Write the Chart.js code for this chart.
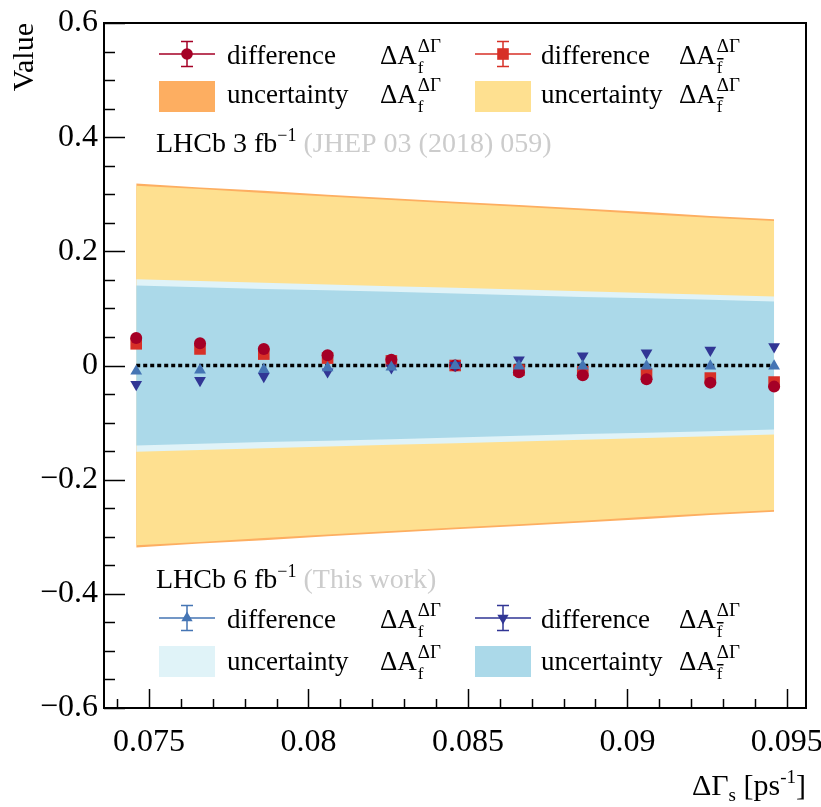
<!DOCTYPE html>
<html>
<head>
<meta charset="utf-8">
<script src="https://cdn.jsdelivr.net/npm/chart.js@4.4.0/dist/chart.umd.min.js"></script>
<style>
  html, body { margin: 0; padding: 0; background: #fff; }
</style>
</head>
<body>
<canvas id="chart" width="821" height="807"></canvas>
<script>
// x positions (Delta Gamma_s, ps^-1)
const deltaGamma = [0.0746, 0.0766, 0.0786, 0.0806, 0.0826, 0.0846, 0.0866, 0.0886, 0.0906, 0.0926, 0.0946];

// differences
const diffAf3fb    = [0.048, 0.039, 0.029, 0.018, 0.010, 0.000, -0.012, -0.017, -0.024, -0.030, -0.037];
const diffAfbar3fb = [0.038, 0.029, 0.020, 0.013, 0.008, 0.000, -0.008, -0.011, -0.015, -0.022, -0.029];
const diffAf6fb    = [-0.010, -0.008, -0.007, -0.004, -0.003, 0.000, -0.001, -0.001, -0.001, -0.001, -0.001];
const diffAfbar6fb = [-0.033, -0.026, -0.019, -0.011, -0.004, 0.000, 0.010, 0.017, 0.022, 0.027, 0.033];

// uncertainty half widths (bands are +/-)
const uncAf3fb    = [0.319, 0.312, 0.306, 0.299, 0.293, 0.287, 0.281, 0.275, 0.269, 0.262, 0.256];
const uncAfbar3fb = [0.315, 0.309, 0.302, 0.296, 0.290, 0.284, 0.278, 0.272, 0.265, 0.259, 0.253];
const uncAf6fb    = [0.151, 0.148, 0.145, 0.142, 0.139, 0.136, 0.133, 0.130, 0.127, 0.124, 0.121];
const uncAfbar6fb = [0.140, 0.137, 0.134, 0.132, 0.129, 0.126, 0.123, 0.120, 0.118, 0.115, 0.112];

const xTickValues = [0.075, 0.08, 0.085, 0.09, 0.095];
const yTickValues = [-0.6, -0.4, -0.2, 0, 0.2, 0.4, 0.6];

const FONT = '"Liberation Serif", "Times New Roman", serif';

function pts(arr, sign) {
  return deltaGamma.map((x, i) => ({ x: x, y: (sign || 1) * arr[i] }));
}

function band(arr, color, order) {
  return [
    { data: pts(arr, 1), fill: '+1', backgroundColor: color, borderWidth: 0, pointRadius: 0, order: order },
    { data: pts(arr, -1), fill: false, borderWidth: 0, pointRadius: 0, order: order }
  ];
}

function markers(arr, style, color, radius, rotation, order) {
  return {
    data: pts(arr), showLine: false, pointStyle: style, pointRadius: radius, pointRotation: rotation || 0,
    pointBackgroundColor: color, pointBorderColor: color, pointBorderWidth: 0, order: order
  };
}

// ROOT-like frame, inner ticks, legends and x title
const decorations = {
  id: 'decorations',
  afterDraw(chart) {
    const ctx = chart.ctx;
    const a = chart.chartArea;
    const xs = chart.scales.x, ys = chart.scales.y;
    ctx.save();
    ctx.strokeStyle = '#000';
    ctx.lineWidth = 1.5;
    // y ticks every 0.05, major every 0.2
    for (let k = -12; k <= 12; k++) {
      const v = k * 0.05;
      const py = Math.round(ys.getPixelForValue(v)) + 0.5;
      const len = (k % 4 === 0) ? 21 : 11;
      ctx.beginPath(); ctx.moveTo(a.left, py); ctx.lineTo(a.left + len, py); ctx.stroke();
    }
    // x ticks every 0.001, major every 0.005
    for (let k = 74; k <= 95; k++) {
      const v = k / 1000;
      const px = Math.round(xs.getPixelForValue(v)) + 0.5;
      const len = (k % 5 === 0) ? 19 : 9;
      ctx.beginPath(); ctx.moveTo(px, a.bottom); ctx.lineTo(px, a.bottom - len); ctx.stroke();
    }
    ctx.lineWidth = 2;
    ctx.strokeRect(a.left, a.top, a.right - a.left, a.bottom - a.top);

    ctx.textAlign = 'left';
    ctx.textBaseline = 'alphabetic';

    // x title: ΔΓs [ps-1], right aligned to frame
    const parts = [
      { t: 'ΔΓ', s: 30, dy: 0 }, { t: 's', s: 19, dy: 6 }, { t: ' [ps', s: 30, dy: 0 },
      { t: '-1', s: 19, dy: -12 }, { t: ']', s: 30, dy: 0 }
    ];
    let w = 0;
    parts.forEach(p => { ctx.font = p.s + 'px ' + FONT; w += ctx.measureText(p.t).width; });
    let x = a.right - w;
    parts.forEach(p => {
      ctx.font = p.s + 'px ' + FONT; ctx.fillStyle = '#000';
      ctx.fillText(p.t, x, 795 + p.dy); x += ctx.measureText(p.t).width;
    });

    // legends
    const colL = 187, colR = 503, txtL = 227, txtR = 541, daL = 380, daR = 679;
    legendMarker(ctx, 'circle', colL, 54, '#A50026');
    legendMarker(ctx, 'rect', colR, 54, '#D73027');
    legendText(ctx, 'difference', txtL, daL, 64, false);
    legendText(ctx, 'difference', txtR, daR, 64, true);
    ctx.fillStyle = '#FDAE61'; ctx.fillRect(159, 81, 56, 31);
    ctx.fillStyle = '#FEE090'; ctx.fillRect(475, 81, 56, 31);
    legendText(ctx, 'uncertainty', txtL, daL, 103, false);
    legendText(ctx, 'uncertainty', txtR, daR, 103, true);
    lhcbLabel(ctx, '3', '(JHEP 03 (2018) 059)', 156, 152);

    lhcbLabel(ctx, '6', '(This work)', 156, 588);
    legendMarker(ctx, 'triUp', colL, 618, '#4575B4');
    legendMarker(ctx, 'triDown', colR, 618, '#313695');
    legendText(ctx, 'difference', txtL, daL, 628, false);
    legendText(ctx, 'difference', txtR, daR, 628, true);
    ctx.fillStyle = '#E0F3F8'; ctx.fillRect(159, 646, 56, 31);
    ctx.fillStyle = '#ABD9E9'; ctx.fillRect(475, 646, 56, 31);
    legendText(ctx, 'uncertainty', txtL, daL, 670, false);
    legendText(ctx, 'uncertainty', txtR, daR, 670, true);
    ctx.restore();
  }
};

function legendMarker(ctx, style, x, y, color) {
  ctx.strokeStyle = color; ctx.fillStyle = color; ctx.lineWidth = 1.5;
  ctx.beginPath();
  ctx.moveTo(x - 28, y); ctx.lineTo(x + 28, y);
  ctx.moveTo(x, y - 12.5); ctx.lineTo(x, y + 12.5);
  ctx.moveTo(x - 6, y - 12.5); ctx.lineTo(x + 6, y - 12.5);
  ctx.moveTo(x - 6, y + 12.5); ctx.lineTo(x + 6, y + 12.5);
  ctx.stroke();
  ctx.beginPath();
  const r = 6.5;
  if (style === 'circle') ctx.arc(x, y, 5.8, 0, Math.PI * 2);
  else if (style === 'rect') ctx.rect(x - 5.8, y - 5.8, 11.6, 11.6);
  else if (style === 'triUp') { ctx.moveTo(x, y - r); ctx.lineTo(x + r * 0.866, y + r / 2); ctx.lineTo(x - r * 0.866, y + r / 2); }
  else { ctx.moveTo(x, y + r); ctx.lineTo(x + r * 0.866, y - r / 2); ctx.lineTo(x - r * 0.866, y - r / 2); }
  ctx.closePath();
  ctx.fill();
}

function legendText(ctx, word, x, xda, y, bar) {
  ctx.fillStyle = '#000';
  ctx.font = '27px ' + FONT;
  ctx.fillText(word, x, y);
  ctx.fillText('ΔA', xda, y);
  const x2 = xda + ctx.measureText('ΔA').width + 1;
  ctx.font = '17px ' + FONT;
  ctx.fillText('f', x2, y + 9);
  if (bar) ctx.fillRect(x2, y - 6, ctx.measureText('f').width + 1, 1.5);
  ctx.font = '19px ' + FONT;
  ctx.fillText('ΔΓ', x2, y - 12);
}

function lhcbLabel(ctx, lumi, note, x, y) {
  ctx.fillStyle = '#000';
  ctx.font = '28px ' + FONT;
  const main = 'LHCb ' + lumi + ' fb';
  ctx.fillText(main, x, y);
  x += ctx.measureText(main).width;
  ctx.font = '18px ' + FONT;
  ctx.fillText('\u22121', x, y - 11);
  x += ctx.measureText('\u22121').width;
  ctx.font = '28px ' + FONT;
  ctx.fillStyle = '#CCCCCC';
  ctx.fillText(' ' + note, x, y);
}

const datasets = [].concat(
  band(uncAf3fb, '#FDAE61', 10),
  band(uncAfbar3fb, '#FEE090', 9),
  band(uncAf6fb, '#E0F3F8', 8),
  band(uncAfbar6fb, '#ABD9E9', 7),
  [{
    data: [{ x: deltaGamma[0], y: 0 }, { x: deltaGamma[deltaGamma.length - 1], y: 0 }],
    borderColor: '#000', borderWidth: 3.5, borderDash: [4, 3], borderCapStyle: 'butt',
    pointRadius: 0, fill: false, order: 5
  }],
  [markers(diffAfbar3fb, 'rect', '#D73027', 8.2, 0, 4)],
  [markers(diffAf3fb, 'circle', '#A50026', 6, 0, 3)],
  [markers(diffAfbar6fb, 'triangle', '#313695', 6.8, 180, 2)],
  [markers(diffAf6fb, 'triangle', '#4575B4', 6.8, 0, 1)]
);

new Chart(document.getElementById('chart'), {
  type: 'line',
  data: { datasets: datasets },
  options: {
    responsive: false,
    animation: false,
    devicePixelRatio: 1,
    layout: { padding: { top: 23, right: 15, left: 0, bottom: 0 } },
    plugins: { legend: { display: false }, tooltip: { enabled: false } },
    scales: {
      x: {
        type: 'linear', min: 0.07359, max: 0.0956,
        afterBuildTicks: s => { s.ticks = xTickValues.map(v => ({ value: v })); },
        afterFit: s => { s.height = 99; s.paddingLeft = 0; s.paddingRight = 0; },
        grid: { display: false, drawTicks: false },
        border: { display: false },
        ticks: {
          color: '#000', padding: 15, maxRotation: 0,
          font: { family: FONT, size: 32 },
          callback: v => String(Number(v.toFixed(3)))
        }
      },
      y: {
        type: 'linear', min: -0.6, max: 0.6,
        afterBuildTicks: s => { s.ticks = yTickValues.map(v => ({ value: v })); },
        afterFit: s => { s.width = 104; s.paddingTop = 0; s.paddingBottom = 0; },
        grid: { display: false, drawTicks: false },
        border: { display: false },
        ticks: {
          color: '#000', padding: 6,
          font: { family: FONT, size: 32 },
          callback: v => Math.abs(v) < 1e-9 ? '0' : (v < 0 ? '\u2212' + Math.abs(v).toFixed(1) : v.toFixed(1))
        },
        title: {
          display: true, text: 'Value', align: 'end', color: '#000',
          font: { family: FONT, size: 30 }, padding: { top: 7, bottom: 0 }
        }
      }
    }
  },
  plugins: [decorations]
});
</script>
</body>
</html>
